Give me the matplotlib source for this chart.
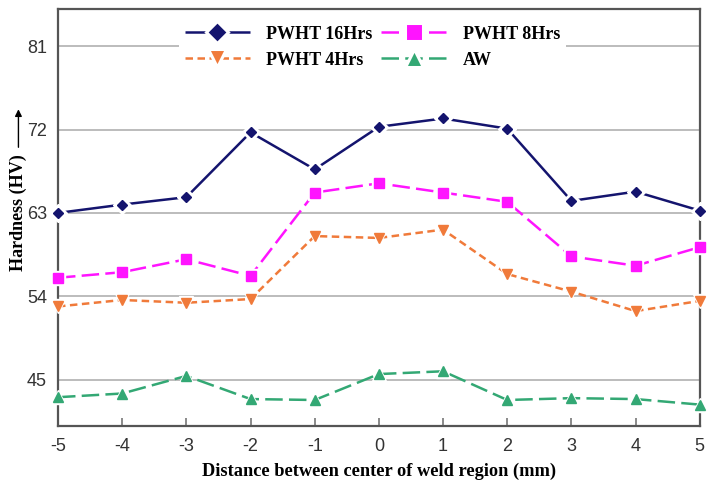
import matplotlib
matplotlib.use("Agg")
import matplotlib.pyplot as plt
from matplotlib.patches import FancyArrowPatch

# distance from weld centre (mm)
distance = [-5, -4, -3, -2, -1, 0, 1, 2, 3, 4, 5]

hv_16h = [63.0, 63.9, 64.7, 71.7, 67.7, 72.3, 73.2, 72.1, 64.3, 65.3, 63.25]
hv_8h = [56.0, 56.6, 58.0, 56.2, 65.2, 66.2, 65.2, 64.2, 58.3, 57.3, 59.3]
hv_4h = [52.9, 53.6, 53.3, 53.7, 60.5, 60.3, 61.2, 56.4, 54.5, 52.4, 53.5]
hv_aw = [43.1, 43.5, 45.4, 42.9, 42.8, 45.6, 45.9, 42.8, 43.0, 42.9, 42.3]

yticks = [45, 54, 63, 72, 81]

series = [
    ("PWHT 16Hrs", hv_16h, "#14146e", "D", (0, ()), 5.5),
    ("PWHT 8Hrs", hv_8h, "#ff14ff", "s", (0, (7, 2.5)), 6.5),
    ("PWHT 4Hrs", hv_4h, "#f07a3a", "v", (0, (3, 1.8)), 6.5),
    ("AW", hv_aw, "#33a874", "^", (0, (7, 2.5)), 6.5),
]

fig = plt.figure(figsize=(7.09, 4.84), dpi=100)
ax = fig.add_axes([0.0818, 0.12, 0.9052, 0.861])

handles = {}
for label, vals, col, mk, ls, ms in series:
    ax.plot(distance, vals, color=col, lw=1.8, linestyle=ls, zorder=3)
    # white halo so lines stop short of the markers
    ax.plot(distance, vals, linestyle="none", marker=mk, ms=ms + 4,
            mfc="white", mec="white", zorder=4, clip_on=False)
    ax.plot(distance, vals, linestyle="none", marker=mk, ms=ms,
            mfc=col, mec=col, zorder=5, clip_on=False)
    h, = ax.plot([], [], color=col, lw=1.8, linestyle=ls, marker=mk, ms=ms + 6,
                 mfc=col, mec="white", mew=2.2, label=label)
    handles[label] = h

ax.set_xlim(-5, 5)
ax.set_ylim(40, 85)
ax.set_xticks(distance)
ax.set_xticklabels([str(d) for d in distance])
ax.set_yticks(yticks)
ax.grid(axis="y", color="#b0b0b0", lw=1.2, zorder=0)

for s in ax.spines.values():
    s.set_color("#555555")
    s.set_linewidth(1.6)
ax.tick_params(axis="x", direction="in", length=6, width=1.2, color="#777777",
               labelsize=13, pad=9)
ax.tick_params(axis="y", direction="in", length=0, labelsize=13, pad=8)
for t in ax.get_xticklabels() + ax.get_yticklabels():
    t.set_fontfamily("Liberation Sans")
    t.set_color("#333333")

ax.set_xlabel("Distance between center of weld region (mm)",
              fontfamily="Liberation Serif", fontweight="bold", fontsize=13.2,
              labelpad=5)

fig.text(0.026, 0.56, "Hardness (HV)", rotation=90, ha="center", va="center",
         fontfamily="Liberation Serif", fontweight="bold", fontsize=13)
fig.add_artist(FancyArrowPatch(
    (0.026, 0.69), (0.026, 0.78), transform=fig.transFigure,
    arrowstyle="-|>", mutation_scale=10, color="black", lw=1.0))

# column-wise fill: 16h / 4h in first column, 8h / AW in second
order = ["PWHT 16Hrs", "PWHT 4Hrs", "PWHT 8Hrs", "AW"]
leg = ax.legend(handles=[handles[k] for k in order], ncol=2, loc="upper center",
                bbox_to_anchor=(0.49, 0.995), frameon=True, fancybox=False,
                edgecolor="none", facecolor="white", framealpha=1,
                handlelength=3.6, columnspacing=0.5, handletextpad=0.9,
                labelspacing=0.5, borderpad=0.3,
                prop={"family": "Liberation Serif", "weight": "bold", "size": 13})
leg.set_zorder(6)

fig.savefig("out.png", dpi=100)
